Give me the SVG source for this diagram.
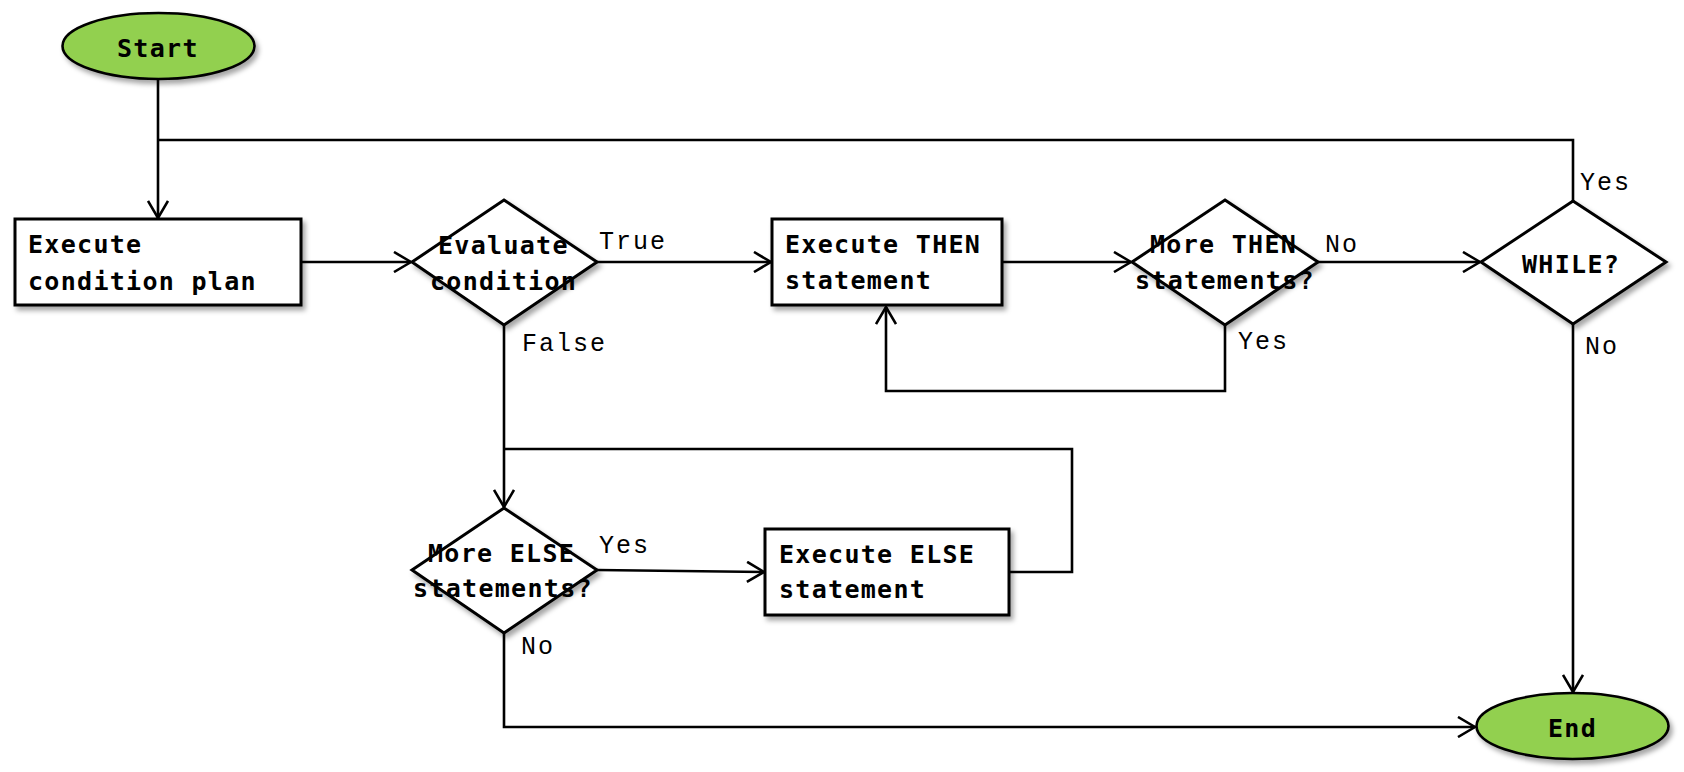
<svg xmlns="http://www.w3.org/2000/svg" width="1684" height="772" viewBox="0 0 1684 772">
<defs>
  <filter id="sh" x="-10%" y="-10%" width="130%" height="140%">
    <feDropShadow dx="3" dy="4" stdDeviation="2.5" flood-color="#000" flood-opacity="0.35"/>
  </filter>
  <marker id="arr" markerUnits="userSpaceOnUse" viewBox="0 0 20 22" refX="18" refY="11" markerWidth="20" markerHeight="22" orient="auto">
    <path d="M1,1 L18,11 L1,21" fill="none" stroke="#000" stroke-width="2.6"/>
  </marker>
  <style>
    .box{fill:#fff;stroke:#000;stroke-width:3;}
    .term{fill:#92d050;stroke:#000;stroke-width:2.6;}
    .nt{font-family:"DejaVu Sans Mono","Liberation Mono",monospace;font-weight:bold;font-size:25px;letter-spacing:1.3px;fill:#000;}
    .lbl{font-family:"Liberation Mono","Courier New",monospace;font-size:25px;letter-spacing:2px;fill:#000;}
    .c{fill:none;stroke:#000;stroke-width:2.6;}
  </style>
</defs>
<rect width="1684" height="772" fill="#fff"/>

<g id="connectors">
  <path class="c" d="M158,79 L158,218" marker-end="url(#arr)"/>
  <path class="c" d="M1573,201 L1573,140 L158,140"/>
  <path class="c" d="M301,262 L411,262" marker-end="url(#arr)"/>
  <path class="c" d="M597,262 L771,262" marker-end="url(#arr)"/>
  <path class="c" d="M1002,262 L1131,262" marker-end="url(#arr)"/>
  <path class="c" d="M1318,262 L1480,262" marker-end="url(#arr)"/>
  <path class="c" d="M1225,325 L1225,391 L886,391 L886,307" marker-end="url(#arr)"/>
  <path class="c" d="M1573,324 L1573,692" marker-end="url(#arr)"/>
  <path class="c" d="M504,325 L504,507" marker-end="url(#arr)"/>
  <path class="c" d="M1009,572 L1072,572 L1072,449 L504,449"/>
  <path class="c" d="M597,570 L764,572" marker-end="url(#arr)"/>
  <path class="c" d="M504,633 L504,727 L1475,727" marker-end="url(#arr)"/>
  <text class="lbl" x="599" y="249">True</text>
  <text class="lbl" x="522" y="351">False</text>
  <text class="lbl" x="1325" y="252">No</text>
  <text class="lbl" x="1238" y="349">Yes</text>
  <text class="lbl" x="1580" y="190">Yes</text>
  <text class="lbl" x="1585" y="354">No</text>
  <text class="lbl" x="599" y="553">Yes</text>
  <text class="lbl" x="521" y="654">No</text>
</g>

<g id="start">
  <ellipse class="term" cx="158.5" cy="46" rx="96" ry="33" filter="url(#sh)"/>
  <text class="nt" x="117" y="57">Start</text>
</g>

<g id="exec-cond">
  <rect class="box" x="15" y="219" width="286" height="86" filter="url(#sh)"/>
  <text class="nt" x="28" y="253">Execute</text>
  <text class="nt" x="28" y="290">condition plan</text>
</g>

<g id="eval-cond">
  <polygon class="box" points="504,200 597,262 504,325 412,262" filter="url(#sh)"/>
  <text class="nt" x="438" y="254">Evaluate</text>
  <text class="nt" x="430" y="290">condition</text>
</g>

<g id="exec-then">
  <rect class="box" x="772" y="219" width="230" height="86" filter="url(#sh)"/>
  <text class="nt" x="785" y="253">Execute THEN</text>
  <text class="nt" x="785" y="289">statement</text>
</g>

<g id="more-then">
  <polygon class="box" points="1225,200 1318,262 1225,325 1132,262" filter="url(#sh)"/>
  <text class="nt" x="1150" y="253">More THEN</text>
  <text class="nt" x="1135" y="289">statements?</text>
</g>

<g id="while">
  <polygon class="box" points="1573,201 1666,262 1573,324 1481,262" filter="url(#sh)"/>
  <text class="nt" x="1522" y="273">WHILE?</text>
</g>

<g id="more-else">
  <polygon class="box" points="504,508 597,570 504,633 412,570" filter="url(#sh)"/>
  <text class="nt" x="428" y="562">More ELSE</text>
  <text class="nt" x="413" y="597">statements?</text>
</g>

<g id="exec-else">
  <rect class="box" x="765" y="529" width="244" height="86" filter="url(#sh)"/>
  <text class="nt" x="779" y="563">Execute ELSE</text>
  <text class="nt" x="779" y="598">statement</text>
</g>

<g id="end">
  <ellipse class="term" cx="1572.5" cy="726" rx="96" ry="33" filter="url(#sh)"/>
  <text class="nt" x="1548" y="737">End</text>
</g>
</svg>
